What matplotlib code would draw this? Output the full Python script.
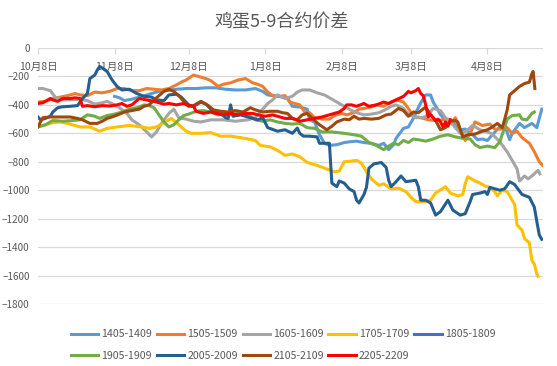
import matplotlib
matplotlib.use("Agg")
import matplotlib.pyplot as plt

plt.rcParams['font.family'] = ['Noto Sans CJK SC', 'DejaVu Sans']

# x = days after 10月8日
tick_days = [0, 31, 61, 92, 123, 151, 182]
tick_labels = ['10月8日', '11月8日', '12月8日', '1月8日', '2月8日', '3月8日', '4月8日']

d1405 = [31, 33, 35, 38, 42, 46, 49, 52, 56, 60, 64, 68, 72, 76, 80, 84, 88, 91, 93, 97, 101, 103, 106,
         109, 110, 112, 114, 116, 118, 121, 124, 126, 129, 132, 135, 138, 140, 142, 144, 145, 148, 150,
         152, 153, 155, 157, 159, 160, 162, 163, 165, 168, 171, 173, 176, 178, 180, 182, 184, 187, 189,
         191, 192, 195, 197, 200, 202, 204]
v1405 = [-340, -350, -370, -360, -340, -320, -305, -300, -290, -285, -285, -280, -280, -290, -295, -295,
         -285, -305, -330, -340, -350, -410, -415, -430, -505, -520, -610, -670, -685, -680, -665, -660,
         -655, -665, -670, -685, -670, -715, -680, -635, -565, -555, -495, -455, -385, -330, -330, -380,
         -435, -470, -505, -520, -575, -570, -610, -645, -640, -650, -610, -555, -545, -645, -600, -530,
         -560, -530, -560, -430]

d1505 = [0, 3, 6, 9, 12, 15, 17, 20, 23, 26, 29, 32, 35, 38, 41, 44, 47, 50, 53, 56, 58, 60, 63, 65, 68,
         70, 73, 75, 78, 81, 84, 87, 89, 91, 93, 95, 98, 100, 102, 104, 106, 108, 110, 112, 115, 118, 120,
         123, 125, 128, 130, 132, 135, 137, 140, 143, 145, 148, 150, 152, 155, 158, 161, 164, 166, 168,
         169, 171, 173, 175, 177, 180, 183, 185, 188, 190, 192, 194, 196, 199, 201, 203, 204.3]
v1505 = [-380, -375, -355, -345, -335, -320, -330, -335, -310, -315, -305, -285, -285, -300, -300, -285,
         -290, -295, -285, -260, -240, -225, -190, -200, -215, -230, -270, -255, -245, -225, -215, -245,
         -255, -270, -310, -335, -340, -335, -380, -390, -400, -450, -455, -490, -500, -500, -475, -460,
         -470, -455, -430, -425, -415, -400, -410, -380, -365, -380, -425, -480, -490, -505, -510, -505,
         -500, -515, -490, -580, -650, -600, -520, -545, -535, -570, -570, -560, -600, -585, -630, -670,
         -730, -800, -825]

d1605 = [0, 2, 5, 7, 10, 13, 17, 20, 23, 26, 28, 31, 33, 36, 38, 41, 44, 46, 48, 50, 53, 55, 57, 60, 63,
         66, 70, 75, 80, 85, 88, 90, 93, 95, 97, 100, 103, 105, 107, 110, 113, 116, 118, 121, 124, 127,
         130, 132, 135, 138, 140, 143, 145, 148, 150, 153, 156, 158, 160, 163, 165, 168, 171, 173, 176,
         179, 182, 184, 187, 190, 192, 194, 195, 197, 198.5, 200, 202.5, 203.2]
v1605 = [-285, -285, -300, -345, -365, -365, -360, -370, -395, -385, -375, -400, -420, -460, -505, -540,
         -590, -625, -590, -530, -460, -430, -490, -500, -515, -520, -505, -505, -515, -505, -490, -450,
         -390, -365, -330, -355, -340, -310, -295, -295, -315, -330, -350, -380, -410, -440, -460, -470,
         -465, -455, -440, -410, -400, -425, -465, -490, -490, -470, -425, -440, -490, -540, -600, -590,
         -545, -575, -590, -605, -660, -730, -790, -850, -935, -900, -920, -900, -860, -885]

d1705 = [0, 3, 6, 9, 13, 17, 21, 25, 28, 32, 37, 42, 45, 48, 51, 54, 57, 60, 62, 66, 70, 74, 78, 82, 85,
         88, 90, 94, 97, 100, 103, 106, 109, 113, 116, 120, 122, 124, 127, 129, 131, 133, 135, 138, 140,
         143, 146, 149, 151, 153, 157, 159, 161, 165, 167, 170, 172, 173, 174, 177, 179, 181, 183, 185,
         186, 188, 190, 192, 193, 194, 196, 197, 199, 200, 201, 202, 202.5]
v1705 = [-555, -540, -525, -520, -535, -555, -555, -585, -565, -555, -545, -555, -565, -555, -525, -495,
         -540, -585, -600, -600, -595, -620, -620, -630, -640, -650, -685, -695, -720, -755, -745, -765,
         -805, -825, -845, -870, -865, -800, -795, -790, -810, -870, -920, -965, -955, -990, -985, -1010,
         -1050, -1080, -1080, -1070, -1020, -975, -1020, -1040, -1030, -955, -905, -935, -950, -970, -980,
         -1010, -1040, -1000, -1010, -1070, -1100, -1245, -1280, -1340, -1370, -1495, -1520, -1590, -1605]

d1805 = []
v1805 = []

d1905 = [0, 3, 6, 10, 14, 17, 20, 23, 25, 28, 31, 34, 37, 40, 43, 45, 47, 49, 51, 53, 55, 57, 59, 61, 64,
         67, 70, 73, 76, 79, 82, 85, 88, 91, 94, 97, 100, 103, 106, 109, 112, 115, 119, 124, 128, 131,
         134, 137, 140, 142, 144, 146, 148, 150, 152, 154, 157, 160, 163, 166, 169, 172, 175, 177, 179,
         182, 185, 187, 189, 190, 192, 195, 196, 198, 200, 201]
v1905 = [-555, -540, -510, -515, -510, -505, -470, -480, -495, -475, -465, -450, -430, -420, -400, -405,
         -420, -470, -520, -555, -540, -505, -475, -465, -445, -440, -450, -470, -465, -470, -450, -470,
         -505, -515, -505, -520, -530, -535, -530, -560, -565, -590, -590, -600, -610, -620, -665, -685,
         -715, -690, -670, -680, -650, -665, -640, -645, -655, -640, -620, -610, -625, -635, -640, -680,
         -700, -690, -700, -660, -555, -500, -475, -470, -500, -505, -460, -450]

d2005 = [0, 1, 3, 5, 6, 8, 10, 13, 16, 17, 18, 20, 21, 23, 24, 25, 26, 28, 30, 32, 34, 37, 40, 43, 46, 48,
         51, 53, 56, 58, 61, 63, 66, 68, 70, 74, 76, 77, 78, 79, 82, 86, 89, 91, 93, 97, 100, 103, 105,
         106, 107.5, 110, 113, 114, 118, 119, 121, 122, 124, 126, 128, 129, 130, 132, 133, 134, 136, 139,
         141, 142, 143, 145, 147, 149, 151, 153, 154, 155, 157, 159, 161, 163, 166, 168, 171, 173, 175,
         176, 179, 181, 182, 183, 187, 189, 191, 193, 196, 199, 201, 202, 203, 204]
v2005 = [-485, -505, -495, -480, -450, -420, -413, -410, -405, -380, -355, -320, -215, -190, -155, -130,
         -140, -165, -225, -270, -295, -290, -320, -340, -345, -365, -370, -330, -325, -345, -400, -410,
         -380, -395, -430, -460, -490, -495, -400, -480, -470, -490, -505, -490, -560, -585, -575, -600,
         -563, -600, -620, -620, -625, -670, -670, -950, -975, -935, -950, -990, -1010, -1070, -1090,
         -1030, -980, -845, -815, -805, -840, -930, -975, -940, -900, -940, -935, -930, -975, -1070, -1070,
         -1090, -1175, -1150, -1070, -1140, -1175, -1165, -1080, -1030, -1020, -1010, -1030, -980, -1000,
         -990, -940, -960, -1030, -1050, -1120, -1220, -1315, -1345]

d2105 = [0, 1, 2, 5, 9, 13, 16, 18, 21, 24, 26, 28, 30, 33, 35, 38, 41, 43, 45, 47, 49, 51, 53, 55, 57,
         59, 61, 63, 66, 69, 71, 74, 77, 80, 83, 86, 88, 91, 94, 97, 99, 101, 103, 105, 107, 109, 112,
         114, 117, 119, 121, 124, 126, 128, 130, 132, 135, 138, 141, 143, 146, 148, 150, 152, 154, 157,
         159, 161, 163, 165, 167, 169, 170, 172, 174, 177, 180, 182, 184, 186, 188, 189, 190, 191, 193,
         195, 197, 199, 200, 200.5, 201.2]
v2105 = [-555, -520, -490, -485, -485, -485, -495, -505, -530, -530, -515, -495, -485, -465, -450, -440,
         -430, -410, -400, -365, -335, -305, -290, -305, -335, -375, -410, -405, -375, -405, -435, -445,
         -450, -440, -450, -420, -435, -450, -445, -445, -455, -460, -495, -505, -470, -460, -510, -540,
         -575, -550, -520, -500, -505, -480, -500, -495, -500, -495, -470, -465, -425, -440, -480, -450,
         -455, -415, -470, -510, -575, -560, -515, -510, -520, -625, -610, -605, -585, -575, -555, -530,
         -560, -500, -435, -330, -300, -270, -250, -240, -180, -165, -285]

d2205 = [0, 2, 5, 6, 8, 10, 13, 15, 17, 18, 20, 23, 26, 29, 32, 34, 36, 38, 41, 44, 47, 49, 51, 53, 56,
         59, 61, 63, 64, 67, 70, 72, 75, 78, 81, 84, 87, 89, 92, 95, 97, 100, 103, 106, 109, 112, 115,
         118, 120, 122, 124, 125, 127, 129, 132, 134, 137, 140, 142, 145, 148, 150, 151, 153, 154, 155,
         156, 157, 158, 159, 161, 162, 163, 164, 165, 166, 167]
v2205 = [-390, -385, -355, -365, -375, -355, -355, -350, -355, -410, -405, -413, -405, -408, -400, -390,
         -410, -400, -355, -365, -375, -385, -395, -390, -400, -390, -405, -410, -445, -460, -450, -460,
         -470, -460, -470, -460, -460, -470, -480, -470, -480, -495, -495, -515, -505, -495, -485, -470,
         -460, -450, -425, -400, -400, -410, -390, -410, -400, -380, -390, -365, -340, -305, -315, -300,
         -285, -320, -335, -400, -485, -470, -510, -500, -520, -555, -520, -550, -505]

names = ['1405-1409', '1505-1509', '1605-1609', '1705-1709', '1805-1809',
         '1905-1909', '2005-2009', '2105-2109', '2205-2209']
days = [d1405, d1505, d1605, d1705, d1805, d1905, d2005, d2105, d2205]
vals = [v1405, v1505, v1605, v1705, v1805, v1905, v2005, v2105, v2205]
colors = ['#5B9BD5', '#ED7D31', '#A5A5A5', '#FFC000', '#4472C4',
          '#70AD47', '#255E91', '#9E480E', '#FF0000']

fig = plt.figure(figsize=(5.57, 3.66), dpi=100)
ax = fig.add_axes([38 / 557, 1 - 304 / 366, (543 - 38) / 557, (304 - 48) / 366])

lines = []
for d, v, c, n in zip(days, vals, colors, names):
    ln, = ax.plot(d, v, color=c, lw=2.2, label=n, solid_joinstyle='round')
    lines.append(ln)

ax.set_xlim(0, 204.5)
ax.set_ylim(-1800, 0)
ax.set_yticks(range(-1800, 1, 200))
ax.grid(axis='y', color='#D9D9D9', lw=0.9)
ax.set_axisbelow(True)
for s in ax.spines.values():
    s.set_visible(False)

ax.set_xticks(tick_days)
ax.set_xticklabels(tick_labels)
ax.tick_params(axis='x', top=True, bottom=False, labeltop=True, labelbottom=False,
               direction='in', length=4, color='#D9D9D9', pad=-17,
               labelsize=7.6, labelcolor='#595959')
ax.tick_params(axis='y', length=0, pad=6, labelsize=7.2, labelcolor='#595959')

fig.text(0.505, 1 - 22 / 366, '鸡蛋5-9合约价差', ha='center', va='center',
         fontsize=13, color='#595959')

order = [0, 5, 1, 6, 2, 7, 3, 8, 4]
leg = fig.legend([lines[i] for i in order], [names[i] for i in order], ncol=5,
                 loc='center', bbox_to_anchor=(283 / 557, 1 - 345 / 366),
                 frameon=False, fontsize=7.6, handlelength=2.6, handletextpad=0.3,
                 columnspacing=0.45, labelspacing=1.1)
for t in leg.get_texts():
    t.set_color('#595959')

fig.savefig('out.png', dpi=100)
